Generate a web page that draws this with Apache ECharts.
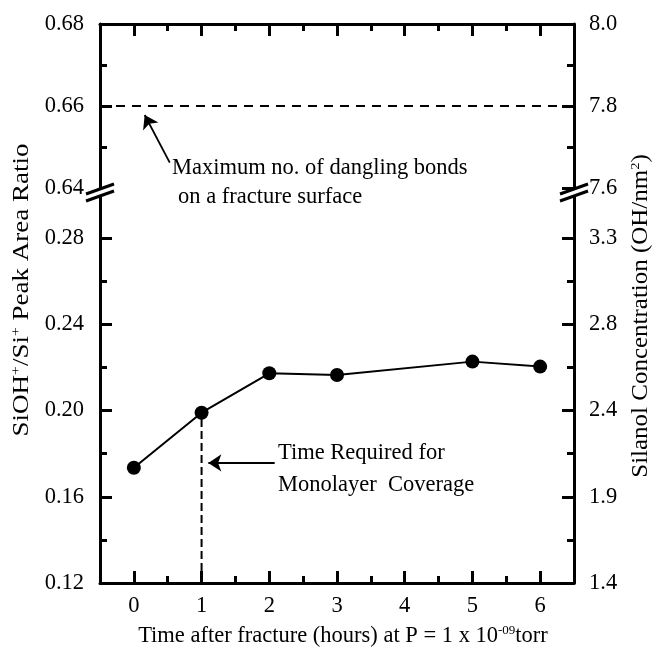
<!DOCTYPE html>
<html>
<head>
<meta charset="utf-8">
<script src="https://cdn.jsdelivr.net/npm/echarts@6/dist/echarts.min.js"></script>
<style>html,body{margin:0;padding:0;background:#fff;}#c{width:653px;height:651px;}</style>
</head>
<body>
<div id="c"></div>
<script>
// ---- data ----
const xTicks = [0, 1, 2, 3, 4, 5, 6];
const xMinorTicks = [0.5, 1.5, 2.5, 3.5, 4.5, 5.5];
const hours = [0, 1, 2, 3, 5, 6];
const peakRatio = [0.1735, 0.199, 0.2173, 0.2165, 0.2227, 0.2204];
const upperTicks = [0.64, 0.66, 0.68];
const upperMinor = [0.65, 0.67];
const upperRightLabels = ['7.6', '7.8', '8.0'];
const lowerTicks = [0.12, 0.16, 0.20, 0.24, 0.28];
const lowerMinor = [0.14, 0.18, 0.22, 0.26];
const lowerRightLabels = ['1.4', '1.9', '2.4', '2.8', '3.3'];
const danglingMax = 0.66;
const monolayerTime = 1;
const arrowDangling = [[0.53, 0.6462], [0.16, 0.6578]];
const arrowMonolayer = [[2.08, 0.1757], [1.1, 0.1757]];

const FONT = '"Liberation Serif", "Times New Roman", serif';
const FS = 22.5;
const X0 = 100, W = 474, UT = 24, UH = 164, LT = 195, LH = 388;

const chart = echarts.init(document.getElementById('c'));

function xAxis(grid, pos, ticks, len, major) {
  return {
    type: 'value', gridIndex: grid, position: pos, min: -0.5, max: 6.5,
    axisLine: { show: major, onZero: false, lineStyle: { color: '#000', width: 3 } },
    axisTick: { show: true, inside: true, length: len, customValues: ticks, lineStyle: { color: '#000', width: 3 } },
    axisLabel: (major && pos === 'bottom') ? { show: true, customValues: ticks, margin: 12, color: '#000', fontFamily: FONT, fontSize: FS } : { show: false },
    splitLine: { show: false }
  };
}
function yAxis(grid, pos, min, max, ticks, len, major, labels) {
  return {
    type: 'value', gridIndex: grid, position: pos, min: min, max: max,
    axisLine: { show: major, onZero: false, lineStyle: { color: '#000', width: 3 } },
    axisTick: { show: true, inside: true, length: len, customValues: ticks, lineStyle: { color: '#000', width: 3 } },
    axisLabel: major ? {
      show: true, customValues: ticks, margin: pos === 'left' ? 16 : 15, color: '#000', fontFamily: FONT, fontSize: FS,
      formatter: function (v) {
        if (!labels) return v.toFixed(2);
        const i = ticks.findIndex(t => Math.abs(t - v) < 1e-9);
        return i >= 0 ? labels[i] : '';
      }
    } : { show: false },
    splitLine: { show: false }
  };
}

const option = {
  animation: false,
  backgroundColor: '#fff',
  grid: [
    { left: X0, top: UT, width: W, height: UH },
    { left: X0, top: LT, width: W, height: LH }
  ],
  xAxis: [
    xAxis(0, 'top', xTicks, 12, true),
    xAxis(0, 'top', xMinorTicks, 7, false),
    xAxis(1, 'bottom', xTicks, 12, true),
    xAxis(1, 'bottom', xMinorTicks, 7, false)
  ],
  yAxis: [
    yAxis(0, 'left', 0.64, 0.68, upperTicks, 12, true, null),
    yAxis(0, 'left', 0.64, 0.68, upperMinor, 7, false, null),
    yAxis(0, 'right', 0.64, 0.68, upperTicks, 12, true, upperRightLabels),
    yAxis(0, 'right', 0.64, 0.68, upperMinor, 7, false, null),
    yAxis(1, 'left', 0.12, 0.30, lowerTicks, 12, true, null),
    yAxis(1, 'left', 0.12, 0.30, lowerMinor, 7, false, null),
    yAxis(1, 'right', 0.12, 0.30, lowerTicks, 12, true, lowerRightLabels),
    yAxis(1, 'right', 0.12, 0.30, lowerMinor, 7, false, null)
  ],
  series: [
    {
      type: 'line', xAxisIndex: 0, yAxisIndex: 0, silent: true,
      data: [[-0.5, danglingMax], [6.5, danglingMax]], symbol: 'none',
      lineStyle: { color: '#000', width: 2, type: [9, 7] },
      markLine: {
        silent: true, symbol: ['none', 'arrow'], symbolSize: 13,
        label: { show: false },
        lineStyle: { color: '#000', width: 1.8, type: 'solid' },
        data: [[{ coord: arrowDangling[0] }, { coord: arrowDangling[1] }]]
      }
    },
    {
      type: 'line', xAxisIndex: 2, yAxisIndex: 4, silent: true,
      data: [[monolayerTime, 0.12], [monolayerTime, peakRatio[hours.indexOf(monolayerTime)]]], symbol: 'none',
      lineStyle: { color: '#000', width: 2, type: [8, 4] },
      markLine: {
        silent: true, symbol: ['none', 'arrow'], symbolSize: 13,
        label: { show: false },
        lineStyle: { color: '#000', width: 1.8, type: 'solid' },
        data: [[{ coord: arrowMonolayer[0] }, { coord: arrowMonolayer[1] }]]
      }
    },
    {
      type: 'line', xAxisIndex: 2, yAxisIndex: 4, silent: true, z: 5,
      data: hours.map((h, i) => [h, peakRatio[i]]),
      symbol: 'circle', symbolSize: 14,
      itemStyle: { color: '#000' },
      lineStyle: { color: '#000', width: 2 }
    }
  ],
  graphic: []
};

const txt = (x, y, text) => ({
  type: 'text', x: x, y: y, silent: true,
  style: { text: text, fill: '#000', font: FS + 'px ' + FONT, align: 'left', verticalAlign: 'middle' }
});
const supRich = { sup: { fontSize: 13, fontFamily: FONT, fill: '#000', verticalAlign: 'top', lineHeight: 13, padding: [0, 0, 12, 0] } };

const g = [];
g.push(txt(172, 168, 'Maximum no. of dangling bonds'));
g.push(txt(178, 197, 'on a fracture surface'));
g.push(txt(278, 453, 'Time Required for'));
g.push(txt(278, 485, 'Monolayer  Coverage'));
g.push({ type: 'text', x: 343, y: 636, silent: true,
  style: { text: 'Time after fracture (hours) at P = 1 x 10{sup|-09}torr', fill: '#000', font: FS + 'px ' + FONT, align: 'center', verticalAlign: 'middle', rich: supRich } });
g.push({ type: 'text', x: 22, y: 290, rotation: Math.PI / 2, scaleX: 1.2, silent: true,
  style: { text: 'SiOH{sup|+}/Si{sup|+} Peak Area Ratio', fill: '#000', font: FS + 'px ' + FONT, align: 'center', verticalAlign: 'middle', rich: supRich } });
g.push({ type: 'text', x: 641, y: 316, rotation: Math.PI / 2, scaleX: 1.11, silent: true,
  style: { text: 'Silanol Concentration (OH/nm{sup|2})', fill: '#000', font: FS + 'px ' + FONT, align: 'center', verticalAlign: 'middle', rich: supRich } });

// axis break marks
[X0, X0 + W].forEach(function (ax) {
  const yc = (UT + UH + LT) / 2;
  g.push({ type: 'polygon', silent: true, z: 100,
    shape: { points: [[ax - 14, yc + 2.5], [ax + 14, yc - 7.5], [ax + 14, yc - 0.5], [ax - 14, yc + 9.5]] },
    style: { fill: '#fff' } });
  g.push({ type: 'line', silent: true, z: 101, shape: { x1: ax - 14, y1: yc + 2.5, x2: ax + 14, y2: yc - 7.5 }, style: { stroke: '#000', lineWidth: 3 } });
  g.push({ type: 'line', silent: true, z: 101, shape: { x1: ax - 14, y1: yc + 9.5, x2: ax + 14, y2: yc - 0.5 }, style: { stroke: '#000', lineWidth: 3 } });
});
option.graphic = g;

chart.setOption(option);
</script>
</body>
</html>
